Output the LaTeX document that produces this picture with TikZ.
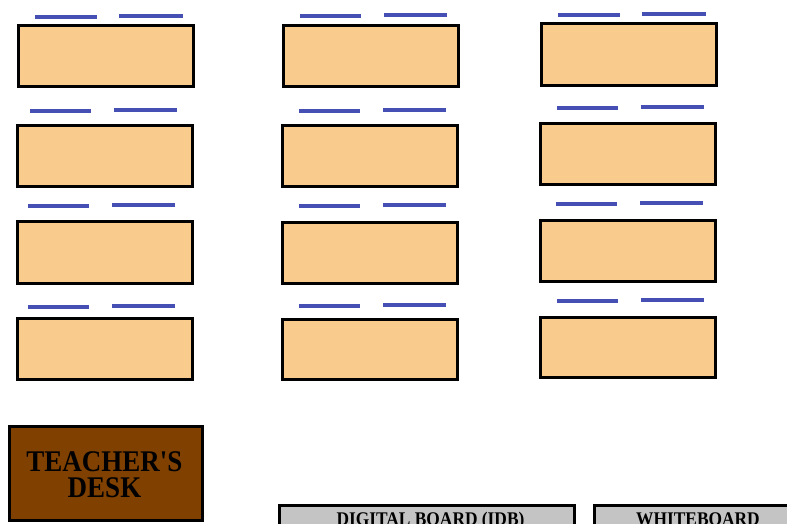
\documentclass[tikz,border=0pt]{standalone}
\usepackage{fontspec}
\setmainfont{Liberation Serif}
\newfontfamily\condserif[FakeStretch=0.9]{Liberation Serif}
\definecolor{deskfill}{HTML}{F9CB8D}
\definecolor{chairblue}{HTML}{4650B4}
\definecolor{teakbrown}{HTML}{7F4000}
\definecolor{boardgray}{HTML}{C4C4C4}
\tikzset{
  desk/.style={draw=black, line width=3pt, fill=deskfill, inner sep=0pt, outer sep=0pt},
  chair/.style={draw=chairblue, line width=4pt},
  tdesk/.style={draw=black, line width=3pt, fill=teakbrown, inner sep=0pt, outer sep=0pt},
  board/.style={draw=black, line width=3pt, fill=boardgray, inner sep=0pt, outer sep=0pt},
  boardtext/.style={font=\condserif\bfseries\fontsize{19.3}{22}\selectfont, inner sep=0pt, anchor=base},
  teachtext/.style={font=\condserif\bfseries\fontsize{30}{26}\selectfont, inner sep=0pt, align=center, anchor=base},
}
\newcommand{\deskat}[5]{%
  \pgfmathsetmacro{\dcx}{(#2+#4)/2}%
  \pgfmathsetmacro{\dcy}{(#3+#5)/2}%
  \pgfmathsetmacro{\dw}{#4-#2-3}%
  \pgfmathsetmacro{\dh}{#5-#3-3}%
  \node[desk, minimum width=\dw pt, minimum height=\dh pt] (#1) at (\dcx,\dcy) {};}
\newcommand{\chairat}[3]{\draw[chair] (#1,#3) -- (#2,#3);}
\begin{document}
\begin{tikzpicture}[x=1pt,y=-1pt]
\clip (0,0) rectangle (787,524);
\fill[white] (0,0) rectangle (787,524);
% column 1
\deskat{d11}{17}{24}{195}{88}   \chairat{35}{97}{17} \chairat{119}{183}{16}
\deskat{d12}{16}{124}{194}{188} \chairat{30}{91}{111} \chairat{114}{177}{110}
\deskat{d13}{16}{220}{194}{285} \chairat{28}{89}{206} \chairat{112}{175}{205}
\deskat{d14}{16}{317}{194}{381} \chairat{28}{89}{307} \chairat{112}{175}{306}
% column 2
\deskat{d21}{282}{24}{460}{88}   \chairat{300}{361}{16} \chairat{384}{447}{15}
\deskat{d22}{281}{124}{459}{188} \chairat{299}{360}{111} \chairat{383}{446}{110}
\deskat{d23}{281}{221}{459}{285} \chairat{299}{360}{206} \chairat{383}{446}{205}
\deskat{d24}{281}{318}{459}{381} \chairat{299}{360}{306} \chairat{383}{446}{305}
% column 3
\deskat{d31}{540}{22}{718}{87}   \chairat{558}{620}{15} \chairat{642}{706}{14}
\deskat{d32}{539}{122}{717}{186} \chairat{557}{618}{108} \chairat{641}{704}{107}
\deskat{d33}{539}{219}{717}{283} \chairat{556}{617}{204} \chairat{640}{703}{203}
\deskat{d34}{539}{316}{717}{379} \chairat{557}{618}{301} \chairat{641}{704}{300}
% teacher's desk
\node[tdesk, minimum width=193pt, minimum height=94pt] (teacher) at (106,473.5) {};
\node[teachtext] (ttext) at (104.5,497) {TEACHER'S\\DESK};
% boards
\node[board, minimum width=295pt, minimum height=40pt, anchor=north west] (idb) at (279.5,505.5) {};
\node[boardtext] (idbtext) at (430.5,525) {DIGITAL BOARD (IDB)};
\node[board, minimum width=220pt, minimum height=40pt, anchor=north west] (wb) at (594.5,505.5) {};
\node[boardtext] (wbtext) at (698,525) {WHITEBOARD};
\end{tikzpicture}
\end{document}
